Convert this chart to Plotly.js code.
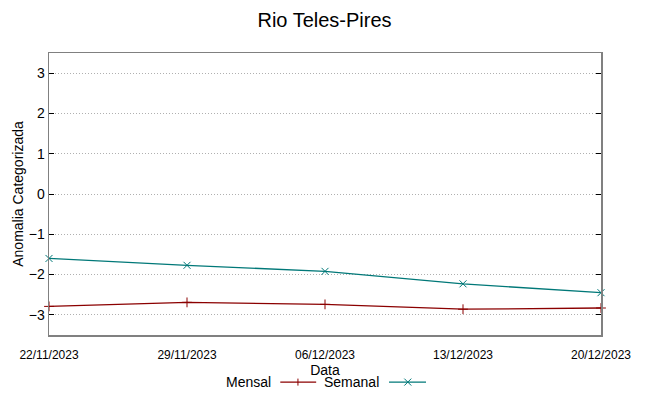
<!DOCTYPE html>
<html><head><meta charset="utf-8">
<script src="https://cdn.plot.ly/plotly-3.0.1.min.js"></script>
<style>html,body{margin:0;padding:0;background:#fff}</style>
</head><body><div id="chart" style="width:649px;height:396px"></div>
<script>
const dates = ["2023-11-22","2023-11-29","2023-12-06","2023-12-13","2023-12-20"];
const tickLabels = ["22/11/2023","29/11/2023","06/12/2023","13/12/2023","20/12/2023"];
const mensal = [-2.79, -2.69, -2.74, -2.86, -2.83];
const semanal = [-1.60, -1.77, -1.92, -2.23, -2.45];
const yTicks = [-3,-2,-1,0,1,2,3];
const seriesNames = ["Mensal","Semanal"];
const colors = ["#8b0000","#007878"];

const font = "Liberation Sans, Arial, sans-serif";
const traces = [
  {x: dates, y: mensal, name: seriesNames[0], mode: "lines+markers", type: "scatter",
   line: {color: colors[0], width: 1.3}, marker: {symbol: "cross-thin-open", size: 7, color: colors[0], line:{width:1,color:colors[0]}}, cliponaxis: false},
  {x: dates, y: semanal, name: seriesNames[1], mode: "lines+markers", type: "scatter",
   line: {color: colors[1], width: 1.3}, marker: {symbol: "x-thin-open", size: 7, color: colors[1], line:{width:1,color:colors[1]}}, cliponaxis: false}
];

// legend drawn gnuplot style: text on the left, sample on the right
const legY = -0.167;
const dx = 3.5/552, dy = 3.5/282;
const annotations = [
  {text: seriesNames[0], xref:"paper", yref:"paper", x: 0.406, y: legY, xanchor:"right", yanchor:"middle", showarrow:false, font:{family:font,size:14,color:"#000"}},
  {text: seriesNames[1], xref:"paper", yref:"paper", x: 0.602, y: legY, xanchor:"right", yanchor:"middle", showarrow:false, font:{family:font,size:14,color:"#000"}}
];
const pm = 0.451, xm = 0.650;
const shapes = [
  {type:"line", xref:"paper", yref:"paper", x0:0.419, x1:0.484, y0:legY, y1:legY, line:{color:colors[0], width:1.3}},
  {type:"line", xref:"paper", yref:"paper", x0:0.616, x1:0.683, y0:legY, y1:legY, line:{color:colors[1], width:1.3}},
  {type:"line", xref:"paper", yref:"paper", x0:pm, x1:pm, y0:legY-dy, y1:legY+dy, line:{color:colors[0], width:1}},
  {type:"line", xref:"paper", yref:"paper", x0:xm-dx, x1:xm+dx, y0:legY-dy, y1:legY+dy, line:{color:colors[1], width:1}},
  {type:"line", xref:"paper", yref:"paper", x0:xm-dx, x1:xm+dx, y0:legY+dy, y1:legY-dy, line:{color:colors[1], width:1}}
];

const layout = {
  width: 649, height: 396,
  margin: {l: 49, r: 48, t: 53, b: 61},
  paper_bgcolor: "#fff", plot_bgcolor: "#fff",
  showlegend: false,
  title: {text: "Rio Teles-Pires", x: 0.5, xanchor: "center", y: 0.95, yanchor:"middle", font: {family: font, size: 20, color: "#000"}},
  xaxis: {
    type: "date", range: [dates[0], dates[dates.length-1]],
    tickvals: dates, ticktext: tickLabels,
    showgrid: false, zeroline: false,
    showline: true, mirror: true, linecolor: "#808080", linewidth: 1.5,
    ticks: "", ticklabelstandoff: 8,
    tickfont: {family: font, size: 12, color: "#000"},
    title: {text: "Data", font: {family: font, size: 14, color: "#000"}, standoff: 0}
  },
  yaxis: {
    range: [-3.5, 3.5], tickvals: yTicks,
    showgrid: true, gridcolor: "#b0b0b0", griddash: "1px,2px", gridwidth: 1,
    zeroline: false,
    showline: true, mirror: "ticks", linecolor: "#808080", linewidth: 1.5,
    ticks: "inside", ticklen: 5, tickcolor: "#000",
    tickfont: {family: font, size: 14, color: "#000"},
    title: {text: "Anomalia Categorizada", font: {family: font, size: 14, color: "#000"}, standoff: 2}
  },
  annotations: annotations,
  shapes: shapes
};
Plotly.newPlot("chart", traces, layout, {staticPlot: true});
</script></body></html>
